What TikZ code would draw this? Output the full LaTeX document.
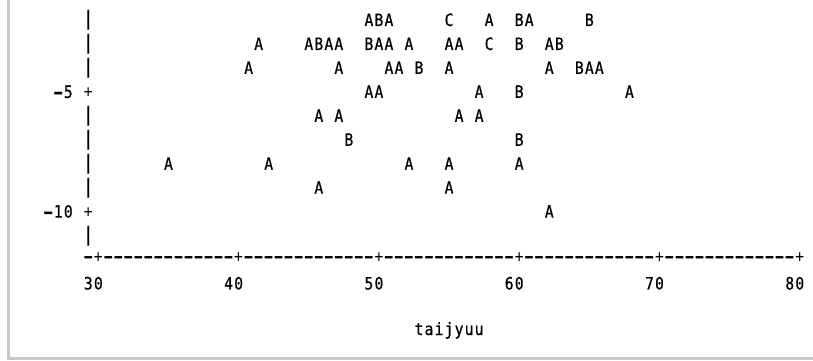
\documentclass[tikz,border=0pt]{standalone}
\usepackage{fontspec}
\usepackage{graphicx}
\setmonofont{DejaVu Sans Mono}
\newfontfamily\plotfont[FakeBold=0.8]{DejaVu Sans Mono}
\definecolor{framegray}{RGB}{200,200,200}
\newcommand\wdash{\makebox[10.02pt][c]{\bfseries\scalebox{1.5}[1]{-}}}
\newcommand\vbar{\makebox[10.02pt][c]{\bfseries\scalebox{1}[1.2]{|}}}
\newcommand\cellbox[1]{\makebox[10.02pt][c]{\scalebox{0.88}[1.02]{#1}}}
\newcommand\cells[1]{\cellsi#1\relax}
\def\cellsi#1{\ifx\relax#1\else\cellbox{#1}\expandafter\cellsi\fi}
\newcommand\cx[1]{163.49+10.02*(#1)}
\newcommand\ry[1]{-(26+23.95*(#1))}
\tikzset{
  txt/.style={inner sep=0pt, outer sep=0pt, font=\fontsize{16.64pt}{20pt}\selectfont\ttfamily, anchor=base west},
  pts/.style={txt, font=\fontsize{16.64pt}{20pt}\selectfont\plotfont},
  frameline/.style={framegray, line width=3pt}
}
\begin{document}
\begin{tikzpicture}[x=1pt,y=1pt]
\useasboundingbox (0,0) rectangle (813,-361);
% frame
\draw[frameline] (8.5,0) -- (8.5,-358.5) -- (813,-358.5);
% vertical axis bars
\foreach \k in {0,1,2,4,5,6,7,9}{
  \node[txt] (bar\k) at ({\cx{-8}},{\ry{\k}}) {\vbar};
}
% y labels with ticks
\node[pts] (ylab5) at ({\cx{-11}},{\ry{3}}) {\wdash\cells{5}\cellbox{~}{\ttfamily\cellbox{+}}};
\node[pts] (ylab10) at ({\cx{-12}},{\ry{8}}) {\wdash\cells{10}\cellbox{~}{\ttfamily\cellbox{+}}};
% row 0
\node[pts] (r0a) at ({\cx{20}},{\ry{0}}) {\cells{ABA}};
\node[pts] (r0b) at ({\cx{28}},{\ry{0}}) {\cells{C}};
\node[pts] (r0c) at ({\cx{32}},{\ry{0}}) {\cells{A}};
\node[pts] (r0d) at ({\cx{35}},{\ry{0}}) {\cells{BA}};
\node[pts] (r0e) at ({\cx{42}},{\ry{0}}) {\cells{B}};
% row 1
\node[pts] (r1a) at ({\cx{9}},{\ry{1}}) {\cells{A}};
\node[pts] (r1b) at ({\cx{14}},{\ry{1}}) {\cells{ABAA}};
\node[pts] (r1c) at ({\cx{20}},{\ry{1}}) {\cells{BAA~A}};
\node[pts] (r1d) at ({\cx{28}},{\ry{1}}) {\cells{AA}};
\node[pts] (r1e) at ({\cx{32}},{\ry{1}}) {\cells{C}};
\node[pts] (r1f) at ({\cx{35}},{\ry{1}}) {\cells{B}};
\node[pts] (r1g) at ({\cx{38}},{\ry{1}}) {\cells{AB}};
% row 2
\node[pts] (r2a) at ({\cx{8}},{\ry{2}}) {\cells{A}};
\node[pts] (r2b) at ({\cx{17}},{\ry{2}}) {\cells{A}};
\node[pts] (r2c) at ({\cx{22}},{\ry{2}}) {\cells{AA~B}};
\node[pts] (r2d) at ({\cx{28}},{\ry{2}}) {\cells{A}};
\node[pts] (r2e) at ({\cx{38}},{\ry{2}}) {\cells{A}};
\node[pts] (r2f) at ({\cx{41}},{\ry{2}}) {\cells{BAA}};
% row 3
\node[pts] (r3a) at ({\cx{20}},{\ry{3}}) {\cells{AA}};
\node[pts] (r3b) at ({\cx{31}},{\ry{3}}) {\cells{A}};
\node[pts] (r3c) at ({\cx{35}},{\ry{3}}) {\cells{B}};
\node[pts] (r3d) at ({\cx{46}},{\ry{3}}) {\cells{A}};
% row 4
\node[pts] (r4a) at ({\cx{15}},{\ry{4}}) {\cells{A~A}};
\node[pts] (r4b) at ({\cx{29}},{\ry{4}}) {\cells{A~A}};
% row 5
\node[pts] (r5a) at ({\cx{18}},{\ry{5}}) {\cells{B}};
\node[pts] (r5b) at ({\cx{35}},{\ry{5}}) {\cells{B}};
% row 6
\node[pts] (r6a) at ({\cx{0}},{\ry{6}}) {\cells{A}};
\node[pts] (r6b) at ({\cx{10}},{\ry{6}}) {\cells{A}};
\node[pts] (r6c) at ({\cx{24}},{\ry{6}}) {\cells{A}};
\node[pts] (r6d) at ({\cx{28}},{\ry{6}}) {\cells{A}};
\node[pts] (r6e) at ({\cx{35}},{\ry{6}}) {\cells{A}};
% row 7
\node[pts] (r7a) at ({\cx{15}},{\ry{7}}) {\cells{A}};
\node[pts] (r7b) at ({\cx{28}},{\ry{7}}) {\cells{A}};
% row 8
\node[pts] (r8a) at ({\cx{38}},{\ry{8}}) {\cells{A}};
% horizontal axis
\foreach \c in {-8,...,63}{
  \pgfmathtruncatemacro\m{mod(\c+21,14)}
  \node[txt] (ax\c) at ({\cx{\c}},-262.8) {\ifnum\m=0 \cellbox{+}\else\wdash\fi};
}
% x labels
\node[pts] (x30) at ({\cx{-8}},{\ry{11}}) {\cells{30}};
\node[pts] (x40) at ({\cx{6}},{\ry{11}}) {\cells{40}};
\node[pts] (x50) at ({\cx{20}},{\ry{11}}) {\cells{50}};
\node[pts] (x60) at ({\cx{34}},{\ry{11}}) {\cells{60}};
\node[pts] (x70) at ({\cx{48}},{\ry{11}}) {\cells{70}};
\node[pts] (x80) at ({\cx{62}},{\ry{11}}) {\cells{80}};
% axis title
\node[pts] (xtitle) at ({\cx{25}},-335) {\cells{taijyuu}};
\end{tikzpicture}
\end{document}
